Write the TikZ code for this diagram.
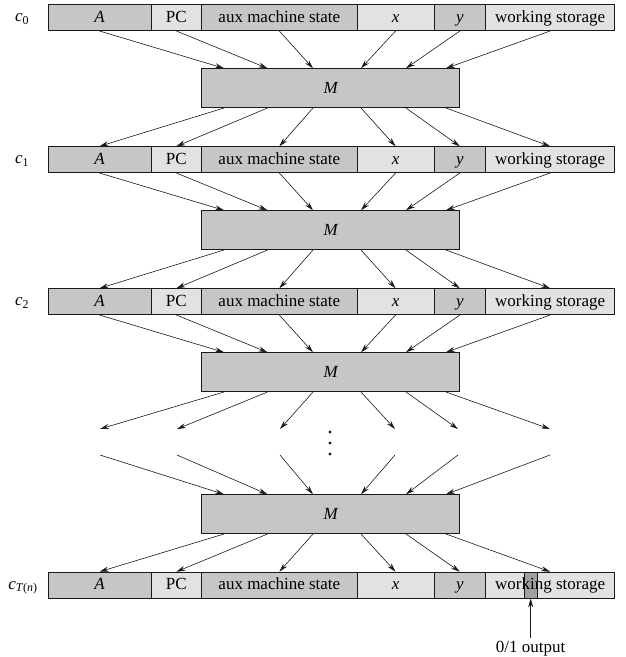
\documentclass[tikz,border=0pt]{standalone}
\usepackage{fontspec}
\setmainfont{Liberation Serif}
\usetikzlibrary{arrows.meta,calc}
\definecolor{darkcell}{RGB}{198,198,198}
\definecolor{lightcell}{RGB}{226,226,226}
\definecolor{bitcell}{RGB}{160,160,160}
\definecolor{inkc}{RGB}{25,25,25}
\newcommand\confrow[3]{%
 \node[dk, minimum width=103pt] (#1A) at (47.7,#2) {\itshape A};
 \node[lt, minimum width=50.6pt] (#1P) at (150.7,#2) {PC};
 \node[dk, minimum width=155.4pt] (#1S) at (201.3,#2) {aux machine state};
 \node[lt, minimum width=77pt] (#1X) at (356.7,#2) {\itshape x};
 \node[dk, minimum width=51.6pt] (#1Y) at (433.7,#2) {\itshape y};
 \node[lt, minimum width=129pt, #3] (#1W) at (485.3,#2) {working storage};
}
\newcommand\mports[1]{%
 \foreach \k/\d in {1/22.7,2/66.2,3/111.7,4/159.7,5/204.7,6/244.7}{%
  \coordinate (#1t\k) at ([xshift=\d pt]#1.north west);
  \coordinate (#1b\k) at ([xshift=\d pt]#1.south west);}%
}
\newcommand\intoM[2]{%
 \draw[arr] (#1A.south) -- (#2t1);
 \draw[arr] (#1P.south) -- (#2t2);
 \draw[arr] (#1S.south) -- (#2t3);
 \draw[arr] (#1X.south) -- (#2t4);
 \draw[arr] (#1Y.south) -- (#2t5);
 \draw[arr] (#1W.south) -- (#2t6);
}
\newcommand\fromM[2]{%
 \draw[arr] (#1b1) -- (#2A.north);
 \draw[arr] (#1b2) -- (#2P.north);
 \draw[arr] (#1b3) -- (#2S.north);
 \draw[arr] (#1b4) -- (#2X.north);
 \draw[arr] (#1b5) -- (#2Y.north);
 \draw[arr] (#1b6) -- (#2W.north);
}
\begin{document}
\begin{tikzpicture}[x=1pt,y=-1pt,
  cell/.style={draw=inkc, line width=0.7pt, inner sep=0pt, minimum height=26pt,
    text height=12.5pt, text depth=3.5pt, anchor=north west,
    font=\fontsize{17}{20}\selectfont},
  dk/.style={cell, fill=darkcell},
  lt/.style={cell, fill=lightcell},
  mbox/.style={draw=inkc, line width=0.7pt, fill=darkcell, minimum width=258pt,
    minimum height=39pt, inner sep=0pt, text height=11.3pt, text depth=0pt,
    anchor=north west, font=\fontsize{17}{20}\itshape\selectfont},
  arr/.style={draw=inkc, line width=0.6pt, -{Stealth[length=9pt,width=5pt,inset=3pt]}},
  lbl/.style={inner sep=3pt, font=\fontsize{17}{20}\selectfont},
  bitstyle/.style={path picture={
    \draw[fill=bitcell, draw=inkc, line width=0.7pt]
      ([xshift=39pt]path picture bounding box.north west) rectangle
      ([xshift=52pt]path picture bounding box.south west);}}
]
\useasboundingbox (0,0) rectangle (626,657);

% configuration rows
\confrow{R0}{4.3}{}
\confrow{R1}{146.3}{}
\confrow{R2}{288.3}{}
\confrow{RT}{571.7}{bitstyle}

% row labels
\node[lbl, anchor=base] (L0) at (22,21.8) {\textit{c}\textsubscript{0}};
\node[lbl, anchor=base] (L1) at (22,163.8) {\textit{c}\textsubscript{1}};
\node[lbl, anchor=base] (L2) at (22,305.8) {\textit{c}\textsubscript{2}};
\node[lbl, anchor=base] (LT) at (23,589.2) {\textit{c}\textsubscript{\textit{T}(\textit{n})}};

% machine boxes
\node[mbox] (M0) at (201.3,68.3) {M};
\node[mbox] (M1) at (201.3,210.3) {M};
\node[mbox] (M2) at (201.3,352.3) {M};
\node[mbox] (M3) at (201.3,494.3) {M};
\mports{M0}
\mports{M1}
\mports{M2}
\mports{M3}

% connectors
\intoM{R0}{M0}
\fromM{M0}{R1}
\intoM{R1}{M1}
\fromM{M1}{R2}
\intoM{R2}{M2}

% elided section
\coordinate (d1) at (100,429);
\coordinate (d2) at (177,429);
\coordinate (d3) at (280,429);
\coordinate (d4) at (395,429);
\coordinate (d5) at (458,429);
\coordinate (d6) at (550,429);
\coordinate (u1) at (100,455);
\coordinate (u2) at (177,455);
\coordinate (u3) at (280,455);
\coordinate (u4) at (395,455);
\coordinate (u5) at (458,455);
\coordinate (u6) at (550,455);
\foreach \k in {1,...,6}{
  \draw[arr] (M2b\k) -- (d\k);
  \draw[arr] (u\k) -- (M3t\k);
}
\fill[inkc] (330,432) circle (1.7);
\fill[inkc] (330,443) circle (1.7);
\fill[inkc] (330,454) circle (1.7);

\fromM{M3}{RT}

% output bit
\coordinate (outbit) at ([xshift=45.4pt]RTW.south west);
\node[lbl, anchor=base] (outlbl) at (530.7,652.3) {0/1 output};
\draw[arr] (outlbl.north -| outbit) -- (outbit);
\end{tikzpicture}
\end{document}
